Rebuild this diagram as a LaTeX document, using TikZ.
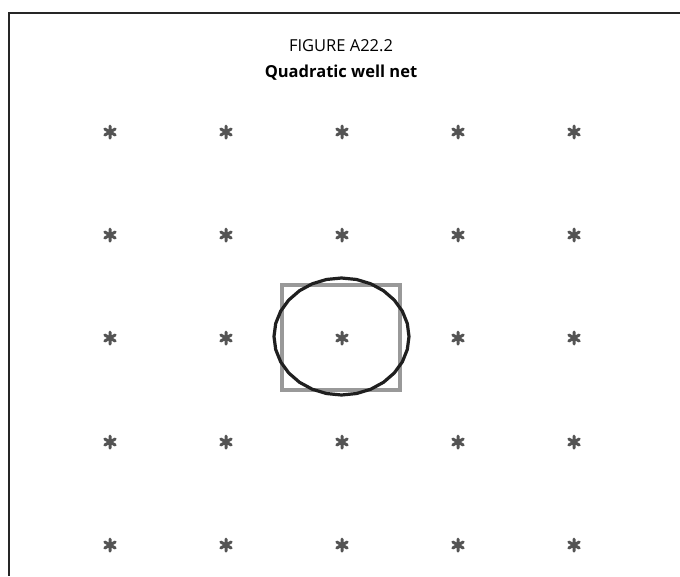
\documentclass[tikz,border=0pt]{standalone}
\usepackage{fontspec}
\setmainfont{Open Sans}
\begin{document}
\begin{tikzpicture}[x=1pt,y=-1pt,
  frame/.style={draw=black!85,line width=2.2pt},
  gridstar/.style={minimum size=18pt,inner sep=0pt,
    path picture={
      \draw[black!67,line width=3pt,line cap=round]
        ([yshift=6pt]path picture bounding box.center) -- ([yshift=-6pt]path picture bounding box.center)
        ([shift={(30:6pt)}]path picture bounding box.center) -- ([shift={(210:6pt)}]path picture bounding box.center)
        ([shift={(150:6pt)}]path picture bounding box.center) -- ([shift={(330:6pt)}]path picture bounding box.center);
    }},
  cell/.style={draw=black!40,line width=3.2pt},
  well/.style={draw=black!88,line width=3.2pt,line join=round},
  title/.style={font=\fontsize{16.5}{19}\selectfont,inner sep=0pt,anchor=base}
]
\useasboundingbox (0,0) rectangle (680,576);
\fill[white] (0,0) rectangle (680,576);
\draw[frame] (680,13) -- (9,13) -- (9,576);
\node[title] (t1) at (341,51) {FIGURE A22.2};
\node[title,font=\fontsize{16.5}{19}\selectfont\bfseries] (t2) at (341,77) {Quadratic well net};
\draw[cell] (282,285) rectangle (400,390);
\draw[well] plot[samples=29,domain=90:450] ({341.5+67.5*cos(\x)},{336.5-58.5*sin(\x)}) -- cycle;
\foreach \i/\x in {1/110,2/226,3/342,4/458,5/574}
  \foreach \j/\y in {1/132,2/235,3/338,4/442,5/545}
    \node[gridstar] (s\i\j) at (\x,\y) {};
\end{tikzpicture}
\end{document}
